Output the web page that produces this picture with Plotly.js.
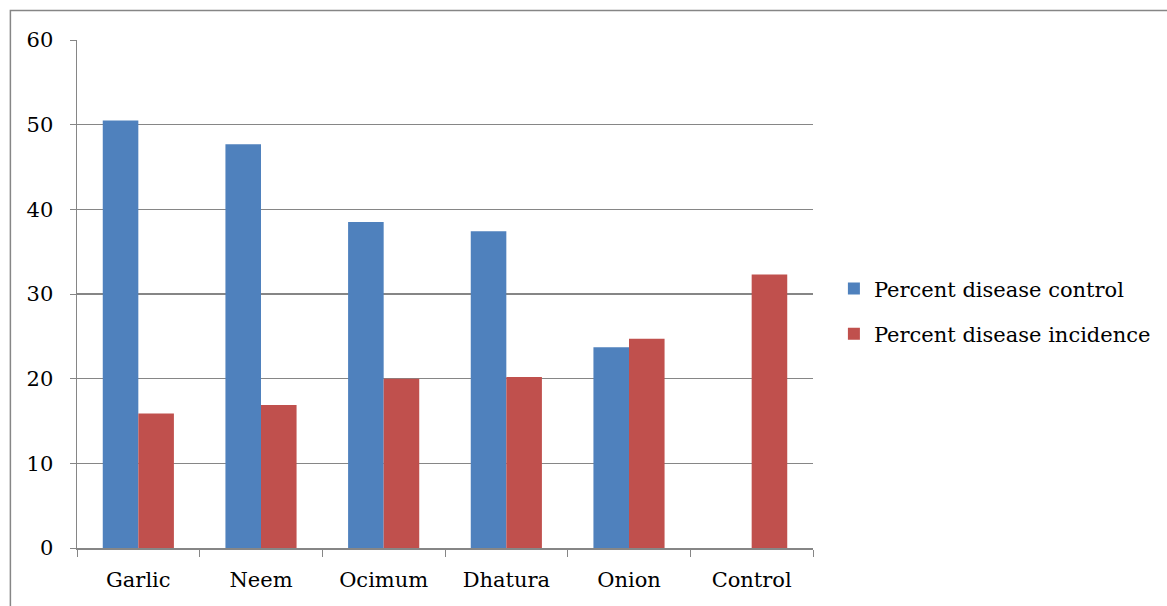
<!DOCTYPE html>
<html>
<head>
<meta charset="utf-8">
<script src="https://cdn.plot.ly/plotly-3.0.1.min.js"></script>
<style>html,body{margin:0;padding:0;background:#fff;}#chart{width:1167px;height:606px;}</style>
</head>
<body>
<div id="chart"></div>
<script>
var categories = ["Garlic", "Neem", "Ocimum", "Dhatura", "Onion", "Control"];
var diseaseControl = [50.5, 47.7, 38.5, 37.4, 23.7, 0];
var diseaseIncidence = [15.9, 16.9, 20.0, 20.2, 24.7, 32.3];
var seriesNames = ["Percent disease control", "Percent disease incidence"];
var yTicks = [0, 10, 20, 30, 40, 50, 60];

var font = {family: "DejaVu Serif", size: 21, color: "#000"};

var traces = [
  {type: "bar", name: seriesNames[0], x: categories, y: diseaseControl,
   marker: {color: "#4F81BD"}, legendgroup: "a", hoverinfo: "none"},
  {type: "bar", name: seriesNames[1], x: categories, y: diseaseIncidence,
   marker: {color: "#C0504D"}, legendgroup: "b", hoverinfo: "none"}
];

var layout = {
  width: 1167, height: 606,
  margin: {l: 77, r: 353, t: 40, b: 58},
  paper_bgcolor: "#fff", plot_bgcolor: "#fff",
  font: font,
  barmode: "group", bargap: 0.42, bargroupgap: 0,
  showlegend: true,
  legend: {x: 1.027, xanchor: "left", y: 0.466, yanchor: "middle",
           font: {family: "DejaVu Serif", size: 21, color: "#000"},
           traceorder: "grouped", tracegroupgap: 15, bgcolor: "rgba(0,0,0,0)"},
  xaxis: {type: "category", tickson: "boundaries", ticks: "outside", ticklen: 7,
          tickcolor: "#868686", showline: true, linecolor: "#868686", linewidth: 1.5,
          showgrid: false, tickfont: font, ticklabelstandoff: 12, fixedrange: true},
  yaxis: {range: [0, 60], tickvals: yTicks, ticktext: yTicks.map(String), ticks: "outside", ticklen: 6,
          tickcolor: "#868686", showline: true, linecolor: "#868686", linewidth: 1.5,
          showgrid: true, gridcolor: "#868686", gridwidth: 1.5, zeroline: false,
          tickfont: font, ticklabelstandoff: 12, fixedrange: true},
  shapes: [
    {type: "rect", xref: "paper", yref: "paper", x0: -0.0905, x1: 1.6, y0: -0.3, y1: 1.058,
     line: {color: "#868686", width: 1.5}, fillcolor: "rgba(0,0,0,0)", layer: "below"}
  ]
};

Plotly.newPlot("chart", traces, layout, {displayModeBar: false, staticPlot: true});
</script>
</body>
</html>
